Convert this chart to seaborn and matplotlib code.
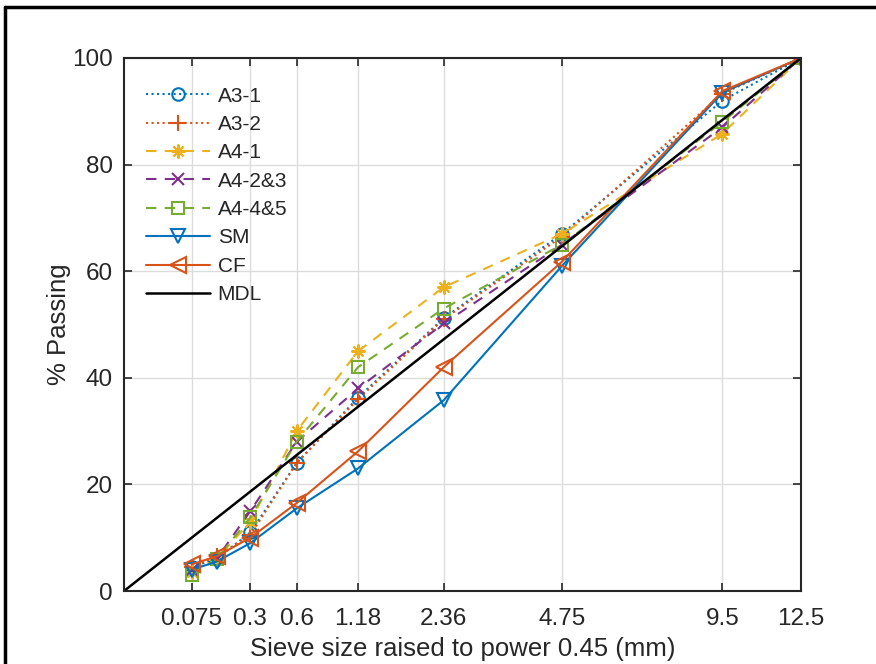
import numpy as np
import pandas as pd
import matplotlib
matplotlib.use("Agg")
import matplotlib.pyplot as plt
import seaborn as sns
from matplotlib.lines import Line2D

# ---- data ----
sieves = [0.075, 0.15, 0.3, 0.6, 1.18, 2.36, 4.75, 9.5, 12.5]
tick_sieves = [0.075, 0.3, 0.6, 1.18, 2.36, 4.75, 9.5, 12.5]
tick_labels = ["0.075", "0.3", "0.6", "1.18", "2.36", "4.75", "9.5", "12.5"]

a3_1 = [4.5, 6.0, 11.0, 24.0, 36.3, 51.2, 67.0, 92.0, 100]
a3_2 = [4.5, 6.5, 10.5, 24.0, 36.0, 51.0, 66.5, 93.3, 100]
a4_1 = [3.5, 6.0, 13.0, 30.0, 45.0, 57.0, 67.0, 85.8, 100]
a4_23 = [4.0, 6.0, 15.0, 28.0, 38.0, 50.2, 65.0, 87.0, 100]
a4_45 = [3.0, 6.0, 13.8, 28.0, 42.0, 53.0, 65.0, 88.0, 100]
sm = [4.0, 5.5, 9.0, 15.5, 23.0, 35.8, 61.0, 93.5, 100]
cf = [5.0, 6.5, 10.0, 16.5, 26.2, 42.0, 61.8, 93.8, 100]
mdl_sieves = [0.0, 12.5]
mdl = [0, 100]

series_names = ["A3-1", "A3-2", "A4-1", "A4-2&3", "A4-4&5", "SM", "CF"]
series_vals = [a3_1, a3_2, a4_1, a4_23, a4_45, sm, cf]

power = 0.45

sns.set_theme(style="ticks")
plt.rcParams["font.family"] = ["Liberation Sans", "DejaVu Sans"]

fig = plt.figure(figsize=(8.76, 6.64), dpi=100)
ax = fig.add_axes([124 / 876, 1 - 591 / 664, (801 - 124) / 876, (591 - 58) / 664])

colors = ["#0072BD", "#D95319", "#EDB120", "#7E2F8E", "#77AC30", "#0072BD", "#D95319"]
markers = ["o", "+", (8, 2, 0), "x", "s", "v", "<"]
styles = [":", ":", (0, (5, 4)), (0, (5, 4)), (0, (5, 4)), "-", "-"]
msizes = [9, 11, 10, 9, 8, 10, 11]

for name, vals, c, m, ls, ms in zip(series_names, series_vals, colors, markers, styles, msizes):
    df = pd.DataFrame({"x": np.array(sieves) ** power, "y": vals})
    sns.lineplot(data=df, x="x", y="y", ax=ax, sort=False, color=c, linestyle=ls,
                 linewidth=1.5, marker=m, markersize=ms, markerfacecolor="none",
                 markeredgecolor=c, markeredgewidth=1.5, label=name)

dfm = pd.DataFrame({"x": np.array(mdl_sieves) ** power, "y": mdl})
sns.lineplot(data=dfm, x="x", y="y", ax=ax, sort=False, color="black", linewidth=1.8, label="MDL")

ax.set_xlim(0, 12.5 ** power)
ax.set_ylim(0, 100)
ax.set_xticks(np.array(tick_sieves) ** power)
ax.set_xticklabels(tick_labels)
ax.set_yticks([0, 20, 40, 60, 80, 100])
ax.grid(True, color="#dcdcdc", linewidth=1.0)
ax.set_axisbelow(True)
ax.tick_params(direction="in", top=True, right=True, length=6, width=1.2,
               labelsize=17.5, colors="#262626")
ax.tick_params(axis="x", pad=12)
ax.tick_params(axis="y", pad=8)
for s in ax.spines.values():
    s.set_visible(True)
    s.set_color("#262626")
    s.set_linewidth(1.5)
ax.set_xlabel("Sieve size raised to power 0.45 (mm)", fontsize=18.5, color="#262626", labelpad=5)
ax.set_ylabel("% Passing", fontsize=18.5, color="#262626", labelpad=1)

leg = ax.legend(loc="upper left", frameon=False, fontsize=15, handlelength=3.1,
                handletextpad=0.35, labelspacing=0.45, borderaxespad=0.0,
                bbox_to_anchor=(0.02, 0.962))

# figure border (left and top edges visible)
fig.add_artist(Line2D([5 / 876, 5 / 876], [0, 1 - 7 / 664], transform=fig.transFigure,
                      color="black", linewidth=2.5))
fig.add_artist(Line2D([5 / 876, 1], [1 - 7 / 664, 1 - 7 / 664], transform=fig.transFigure,
                      color="black", linewidth=2.5))

fig.savefig("out.png", dpi=100)
